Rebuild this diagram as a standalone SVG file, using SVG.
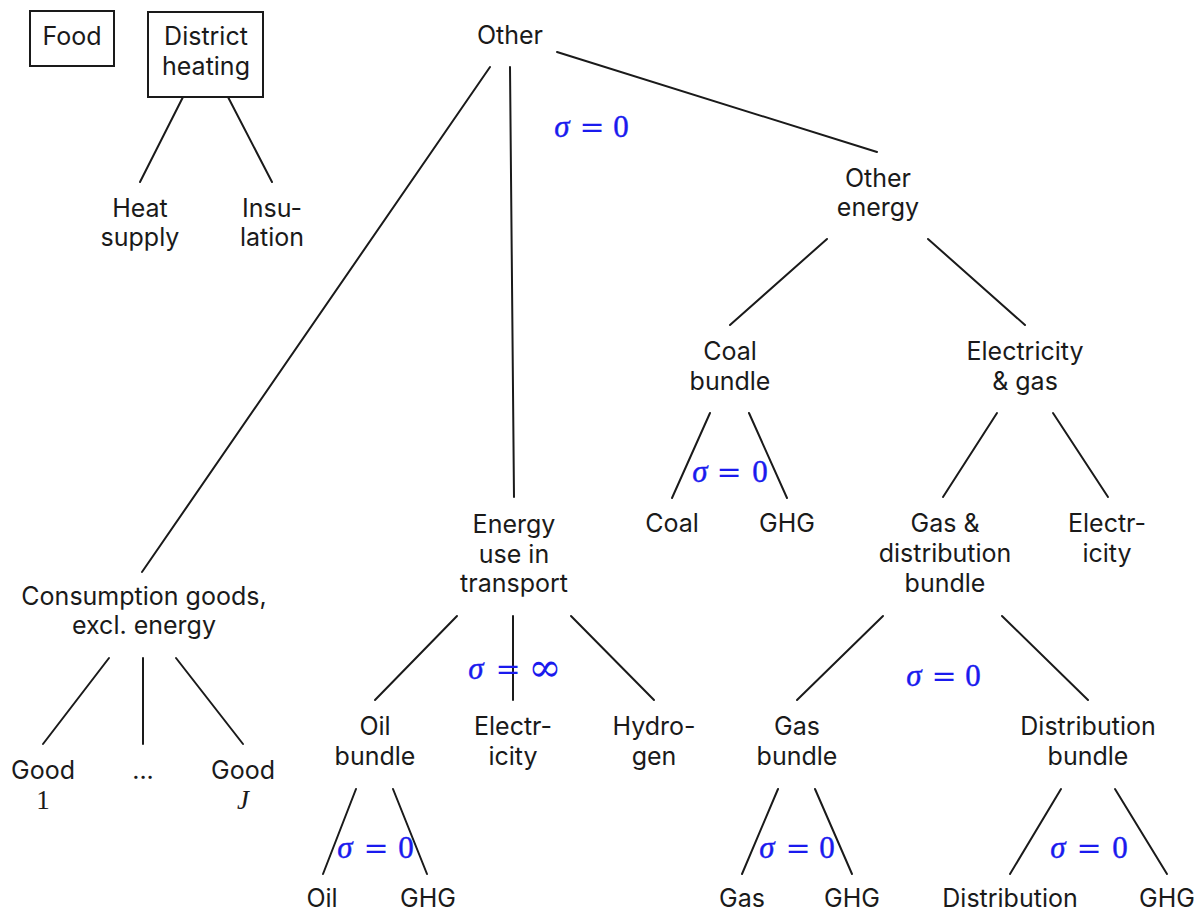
<svg xmlns="http://www.w3.org/2000/svg" width="1204" height="912" viewBox="0 0 1204 912">
<style>
.t{font-family:Inter,"Liberation Sans",sans-serif;font-size:25px;fill:#1a1a1a;text-anchor:middle}
.m{font-family:"Liberation Serif",serif;font-size:31px;fill:#1a1aee;text-anchor:middle;stroke:#1a1aee;stroke-width:0.4}
.s{font-style:italic}
.eq{font-family:"DejaVu Serif",serif;font-size:30px;stroke-width:0}
.inf{font-family:"DejaVu Serif",serif;font-size:40px;stroke-width:0}
.mb{font-family:"Liberation Serif",serif;font-size:27px;fill:#1a1a1a;text-anchor:middle}
.box{fill:none;stroke:#1a1a1a;stroke-width:2}
.c line{stroke:#1a1a1a;stroke-width:2;stroke-linecap:round}
</style>
<rect width="1204" height="912" fill="#fff"/>
<g class="c" id="connectors">
<line x1="183" y1="97" x2="140" y2="182"/>
<line x1="228" y1="97" x2="272" y2="182"/>
<line x1="490" y1="67" x2="142" y2="572"/>
<line x1="510" y1="67" x2="514" y2="497"/>
<line x1="557" y1="52" x2="877" y2="152"/>
<line x1="827" y1="239" x2="730" y2="325"/>
<line x1="928" y1="239" x2="1025" y2="325"/>
<line x1="710" y1="413" x2="672" y2="498"/>
<line x1="749" y1="413" x2="787" y2="498"/>
<line x1="997" y1="413" x2="943" y2="497"/>
<line x1="1053" y1="413" x2="1108" y2="497"/>
<line x1="883" y1="616" x2="797" y2="700"/>
<line x1="1002" y1="616" x2="1088" y2="700"/>
<line x1="778" y1="789" x2="742" y2="874"/>
<line x1="815" y1="789" x2="852" y2="874"/>
<line x1="1061" y1="789" x2="1010" y2="874"/>
<line x1="1115" y1="789" x2="1167" y2="874"/>
<line x1="457" y1="616" x2="375" y2="700"/>
<line x1="513" y1="616" x2="513" y2="700"/>
<line x1="571" y1="616" x2="654" y2="700"/>
<line x1="356" y1="789" x2="323" y2="874"/>
<line x1="393" y1="789" x2="427" y2="874"/>
<line x1="109" y1="658" x2="43" y2="744"/>
<line x1="143" y1="658" x2="143" y2="744"/>
<line x1="176" y1="658" x2="243" y2="744"/>
</g>
<g id="food"><rect class="box" x="30" y="11" width="84" height="55"/><text class="t" x="72" y="45">Food</text></g>
<g id="district"><rect class="box" x="148" y="12" width="115" height="85"/><text class="t" x="206" y="45">District</text><text class="t" x="206" y="75">heating</text></g>
<g id="heat"><text class="t" x="140" y="217">Heat</text><text class="t" x="140" y="246">supply</text></g>
<g id="insulation"><text class="t" x="272" y="217">Insu-</text><text class="t" x="272" y="246">lation</text></g>
<g id="other"><text class="t" x="510" y="44">Other</text></g>
<g id="sigma-other"><text class="m"><tspan class="s" x="562" y="137">σ</tspan><tspan class="eq" x="592" y="137">=</tspan><tspan x="621" y="137">0</tspan></text></g>
<g id="other-energy"><text class="t" x="878" y="187">Other</text><text class="t" x="878" y="216">energy</text></g>
<g id="coal-bundle"><text class="t" x="730" y="360">Coal</text><text class="t" x="730" y="390">bundle</text></g>
<g id="elec-gas"><text class="t" x="1025" y="360">Electricity</text><text class="t" x="1025" y="390">&amp; gas</text></g>
<g id="sigma-coal"><text class="m"><tspan class="s" x="700" y="482">σ</tspan><tspan class="eq" x="729" y="482">=</tspan><tspan x="760" y="482">0</tspan></text></g>
<g id="coal"><text class="t" x="672" y="532">Coal</text></g>
<g id="coal-ghg"><text class="t" x="787" y="532">GHG</text></g>
<g id="gas-dist"><text class="t" x="945" y="532">Gas &amp;</text><text class="t" x="945" y="562">distribution</text><text class="t" x="945" y="592">bundle</text></g>
<g id="electricity2"><text class="t" x="1107" y="532">Electr-</text><text class="t" x="1107" y="562">icity</text></g>
<g id="sigma-gasdist"><text class="m"><tspan class="s" x="914" y="686">σ</tspan><tspan class="eq" x="944" y="686">=</tspan><tspan x="973" y="686">0</tspan></text></g>
<g id="gas-bundle"><text class="t" x="797" y="735">Gas</text><text class="t" x="797" y="765">bundle</text></g>
<g id="dist-bundle"><text class="t" x="1088" y="735">Distribution</text><text class="t" x="1088" y="765">bundle</text></g>
<g id="sigma-gas"><text class="m"><tspan class="s" x="767" y="858">σ</tspan><tspan class="eq" x="798" y="858">=</tspan><tspan x="827" y="858">0</tspan></text></g>
<g id="sigma-dist"><text class="m"><tspan class="s" x="1058" y="858">σ</tspan><tspan class="eq" x="1089" y="858">=</tspan><tspan x="1120" y="858">0</tspan></text></g>
<g id="gas"><text class="t" x="742" y="907">Gas</text></g>
<g id="gas-ghg"><text class="t" x="852" y="907">GHG</text></g>
<g id="distribution"><text class="t" x="1010" y="907">Distribution</text></g>
<g id="dist-ghg"><text class="t" x="1167" y="907">GHG</text></g>
<g id="transport"><text class="t" x="514" y="533">Energy</text><text class="t" x="514" y="563">use in</text><text class="t" x="514" y="592">transport</text></g>
<g id="sigma-transport"><text class="m"><tspan class="s" x="476" y="679">σ</tspan><tspan class="eq" x="508" y="679">=</tspan><tspan class="inf" x="545" y="681">∞</tspan></text></g>
<g id="oil-bundle"><text class="t" x="375" y="735">Oil</text><text class="t" x="375" y="765">bundle</text></g>
<g id="electricity1"><text class="t" x="513" y="735">Electr-</text><text class="t" x="513" y="765">icity</text></g>
<g id="hydrogen"><text class="t" x="654" y="735">Hydro-</text><text class="t" x="654" y="765">gen</text></g>
<g id="sigma-oil"><text class="m"><tspan class="s" x="345" y="858">σ</tspan><tspan class="eq" x="376" y="858">=</tspan><tspan x="406" y="858">0</tspan></text></g>
<g id="oil"><text class="t" x="322" y="907">Oil</text></g>
<g id="oil-ghg"><text class="t" x="428" y="907">GHG</text></g>
<g id="consumption"><text class="t" x="144" y="605">Consumption goods,</text><text class="t" x="144" y="634">excl. energy</text></g>
<g id="good1"><text class="t" x="43" y="779">Good</text><text class="mb" x="43" y="809">1</text></g>
<g id="dots"><text class="t" x="143" y="779">...</text></g>
<g id="goodJ"><text class="t" x="243" y="779">Good</text><text class="mb" x="243" y="809" font-style="italic">J</text></g>
</svg>
